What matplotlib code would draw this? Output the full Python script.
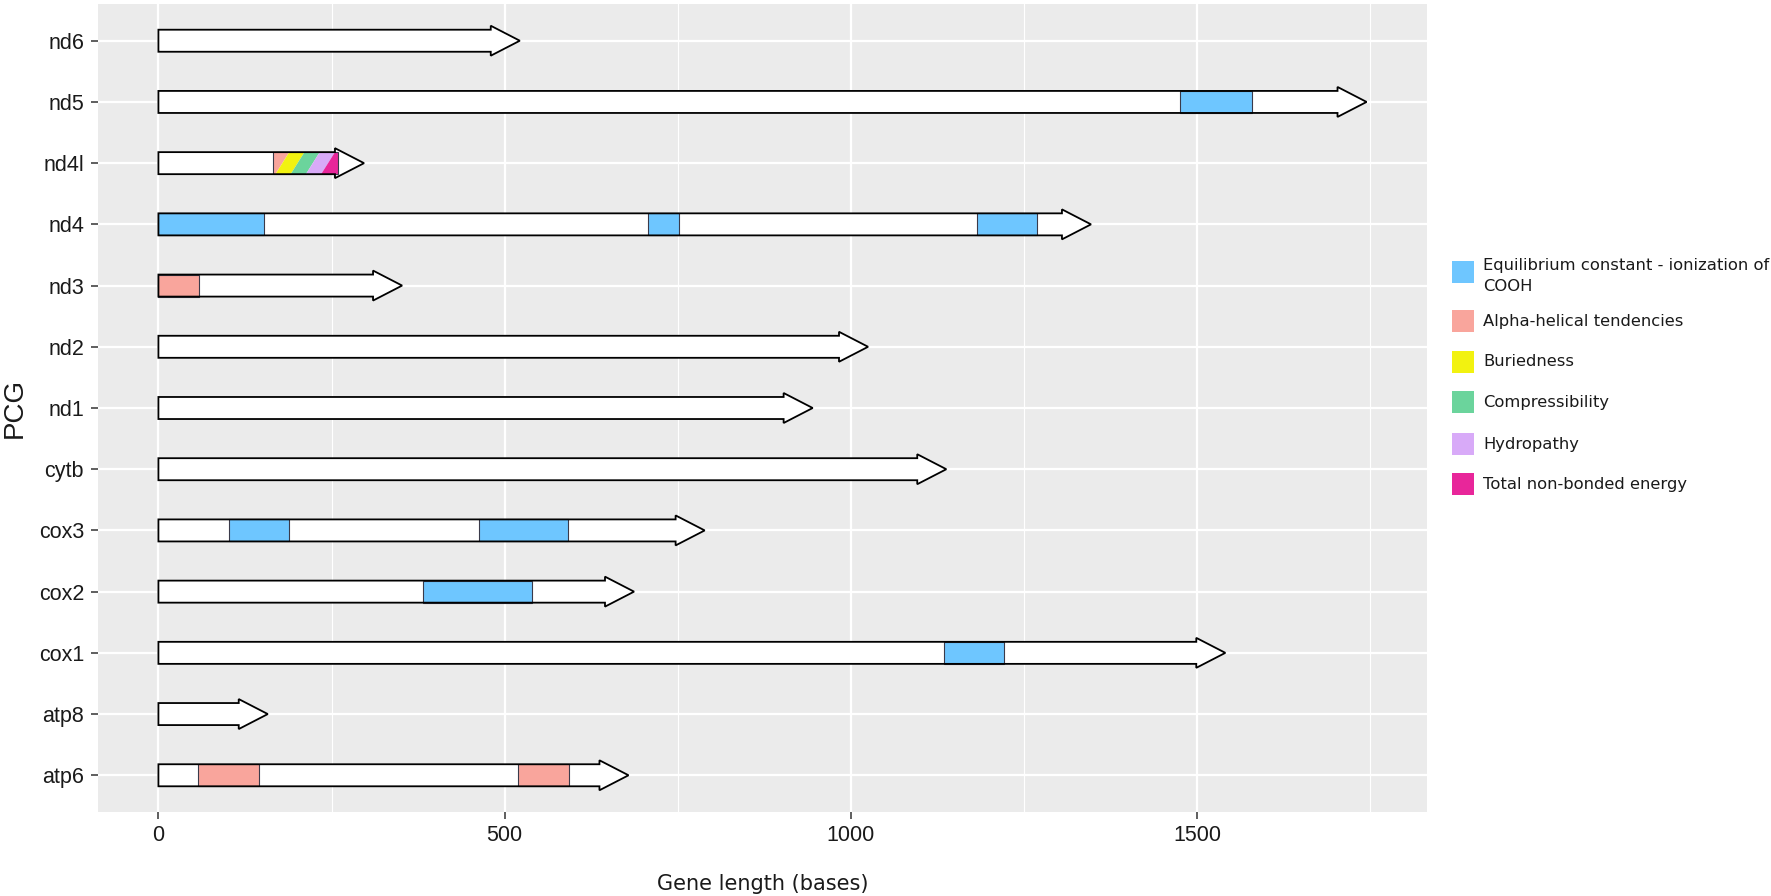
import matplotlib
matplotlib.use("Agg")
import matplotlib.pyplot as plt
from matplotlib.patches import Polygon, Rectangle

W, H = 1771, 896

genes = ['atp6', 'atp8', 'cox1', 'cox2', 'cox3', 'cytb', 'nd1', 'nd2',
         'nd3', 'nd4', 'nd4l', 'nd5', 'nd6']
gene_len = [679, 158, 1541, 687, 789, 1138, 945, 1025, 352, 1347, 297, 1745, 522]

# property segments inside genes
seg_gene = ['atp6', 'atp6', 'cox1', 'cox2', 'cox3', 'cox3', 'nd3',
            'nd4', 'nd4', 'nd4', 'nd5',
            'nd4l', 'nd4l', 'nd4l', 'nd4l', 'nd4l']
seg_start = [57, 520, 1135, 382, 102, 463, 0,
             0, 707, 1182, 1475,
             165, 165, 165, 165, 165]
seg_end = [145, 593, 1221, 539, 189, 592, 58,
           153, 752, 1269, 1580,
           259, 259, 259, 259, 259]
seg_prop = ['Alpha-helical tendencies', 'Alpha-helical tendencies',
            'Equilibrium constant - ionization of\nCOOH',
            'Equilibrium constant - ionization of\nCOOH',
            'Equilibrium constant - ionization of\nCOOH',
            'Equilibrium constant - ionization of\nCOOH',
            'Alpha-helical tendencies',
            'Equilibrium constant - ionization of\nCOOH',
            'Equilibrium constant - ionization of\nCOOH',
            'Equilibrium constant - ionization of\nCOOH',
            'Equilibrium constant - ionization of\nCOOH',
            'Alpha-helical tendencies', 'Buriedness', 'Compressibility',
            'Hydropathy', 'Total non-bonded energy']

props = ['Equilibrium constant - ionization of\nCOOH', 'Alpha-helical tendencies',
         'Buriedness', 'Compressibility', 'Hydropathy', 'Total non-bonded energy']
prop_colors = ['#6EC6FF', '#F9A59C', '#F2F210', '#6BD49C', '#D8AAF8', '#E8269A']
color_of = dict(zip(props, prop_colors))

fig = plt.figure(figsize=(W / 100, H / 100), dpi=100)
ax = fig.add_axes([98 / W, (H - 812) / H, (1427 - 98) / W, (812 - 4) / H])
ax.set_facecolor('#EBEBEB')

L = max(gene_len)
ax.set_xlim(-0.05 * L, 1.05 * L)
ax.set_ylim(0.4, len(genes) + 0.6)

ypos = {g: i + 1 for i, g in enumerate(genes)}
body = 0.18
head = 0.245
head_len = 42

# grid
ax.set_xticks([0, 500, 1000, 1500])
ax.set_xticks([250, 750, 1250, 1750], minor=True)
ax.set_yticks(range(1, len(genes) + 1))
ax.set_yticklabels(genes)
ax.grid(True, which='major', color='white', linewidth=1.6)
ax.grid(True, which='minor', axis='x', color='white', linewidth=0.8)
ax.set_axisbelow(True)
for s in ax.spines.values():
    s.set_visible(False)

# gene arrows (white fill)
arrows = {}
for g, n in zip(genes, gene_len):
    y = ypos[g]
    hs = n - head_len
    pts = [(0, y - body), (hs, y - body), (hs, y - head), (n, y),
           (hs, y + head), (hs, y + body), (0, y + body)]
    arrows[g] = pts
    ax.add_patch(Polygon(pts, closed=True, facecolor='white', edgecolor='none', zorder=2))

# group segments sharing the same region
regions = {}
for g, a, b, p in zip(seg_gene, seg_start, seg_end, seg_prop):
    regions.setdefault((g, a, b), []).append(p)

stripe_w = 22
stripe_s = 20
for (g, a, b), plist in regions.items():
    y = ypos[g]
    if len(plist) == 1:
        ax.add_patch(Rectangle((a, y - body), b - a, 2 * body, facecolor=color_of[plist[0]],
                               edgecolor='#3a3a4a', linewidth=0.8, zorder=3))
    else:
        clip = Rectangle((a, y - body), b - a, 2 * body, transform=ax.transData,
                         facecolor='none', edgecolor='none')
        ax.add_patch(clip)
        x = a + 4 - stripe_w
        for i, p in enumerate(plist):
            x1 = x + stripe_w if i < len(plist) - 1 else b + stripe_s + 5
            poly = Polygon([(x, y - body), (x1, y - body), (x1 + stripe_s, y + body),
                            (x + stripe_s, y + body)], closed=True,
                           facecolor=color_of[p], edgecolor='none', zorder=3)
            ax.add_patch(poly)
            poly.set_clip_path(clip)
            x = x1
        ax.add_patch(Rectangle((a, y - body), b - a, 2 * body, facecolor='none',
                               edgecolor='#3a3a4a', linewidth=0.8, zorder=4))

# arrow outlines on top
for g in genes:
    ax.add_patch(Polygon(arrows[g], closed=True, facecolor='none', edgecolor='black',
                         linewidth=1.3, zorder=5, joinstyle='miter'))

ax.tick_params(axis='both', which='major', color='#333333', width=1.1, length=5,
               labelsize=15.5, labelcolor='#1a1a1a')
ax.tick_params(axis='x', pad=4)
ax.tick_params(axis='y', pad=5)
ax.tick_params(which='minor', length=0)
for lab in ax.get_xticklabels() + ax.get_yticklabels():
    lab.set_fontfamily('Liberation Sans')

ax.set_xlabel('Gene length (bases)', fontsize=15, color='#1a1a1a', family='DejaVu Sans')
ax.xaxis.set_label_coords(0.5, (812 - 884) / 808)
ax.xaxis.label.set_va('center')
ax.set_ylabel('PCG', fontsize=20, color='#1a1a1a', family='Liberation Sans')
ax.yaxis.set_label_coords((15 - 98) / 1329, 0.5)
ax.yaxis.label.set_va('center')

# legend
key_y = [272, 321, 362, 402, 444, 484.5]
for p, c, ky in zip(props, prop_colors, key_y):
    fig.patches.append(Rectangle((1452 / W, (H - ky - 11) / H), 22 / W, 22 / H,
                                 transform=fig.transFigure, facecolor=c,
                                 edgecolor='none'))
    ty = ky + 4 if '\n' in p else ky
    fig.text(1483 / W, (H - ty) / H, p, fontsize=11.8, family='DejaVu Sans',
             color='#1a1a1a', va='center', ha='left', linespacing=1.5)

fig.savefig('out.png', dpi=100)
